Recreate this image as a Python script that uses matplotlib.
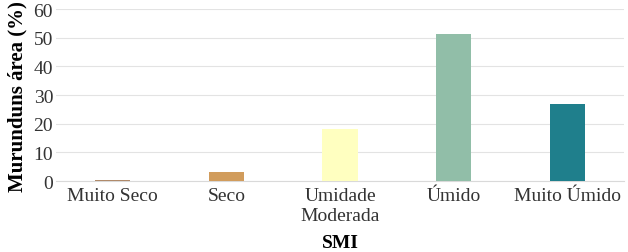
import numpy as np
import matplotlib.pyplot as plt

plt.rcParams['font.family'] = ['Liberation Serif', 'DejaVu Serif']
plt.rcParams["font.size"] = 14

# categorias SMI e área (%)
categorias = ["Muito Seco", "Seco", "Umidade\nModerada", "Úmido", "Muito Úmido"]
area = [0.4, 3.1, 18.1, 51.3, 26.9]
cores = ["#b08a6a", "#d19c5c", "#ffffc0", "#91bea8", "#1f7f8c"]

fig = plt.figure(figsize=(6.28, 2.53), dpi=100)
ax = fig.add_axes([0.089, 0.28, 0.905, 0.68])

x = np.arange(len(categorias))
ax.bar(x, area, width=0.31, color=cores, zorder=3)

ax.set_xlim(-0.5, len(categorias) - 0.5)
ax.set_ylim(0, 60)
ax.set_yticks(range(0, 61, 10))
ax.set_xticks(x)
ax.set_xticklabels(categorias, color="#333333", linespacing=1.25)
ax.tick_params(axis="y", colors="#333333", pad=2)
ax.tick_params(axis="x", pad=4)
ax.tick_params(axis="both", which="both", length=0)
ax.grid(axis="y", color="#e3e3e3", linewidth=0.8, zorder=0)
for s in ["top", "right", "left"]:
    ax.spines[s].set_visible(False)
ax.spines["bottom"].set_color("#d9d9d9")

ax.set_ylabel("Murunduns área (%)", fontsize=15, fontweight="bold", labelpad=4)
ax.set_xlabel("SMI", fontsize=14, fontweight="bold", labelpad=7)

plt.savefig("out.png", dpi=100)
